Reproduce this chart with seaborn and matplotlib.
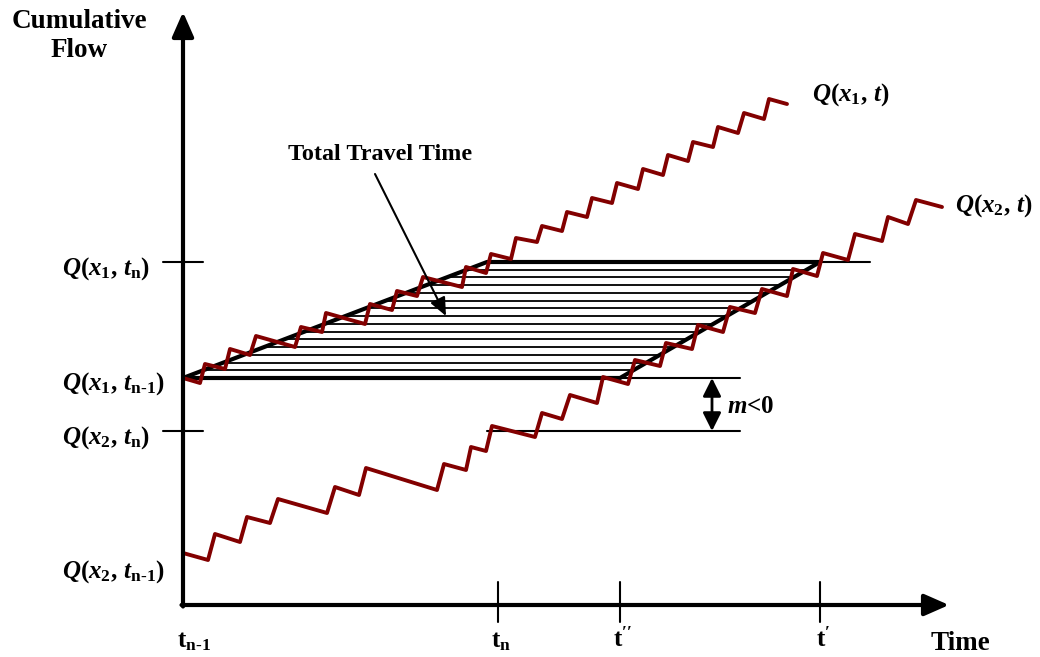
import numpy as np
import pandas as pd
import seaborn as sns
import matplotlib
matplotlib.use("Agg")
import matplotlib.pyplot as plt

# ---- data -------------------------------------------------------------
# Cumulative vehicle counts (vertices of the step-like curves) at the
# upstream detector x1 and the downstream detector x2.
upstream_t = [0.0, 1.7, 2.2, 4.2, 4.7, 6.7, 7.3, 11.2, 11.8, 13.9, 14.3, 18.2,
              18.7, 20.9, 21.4, 23.4, 24.0, 27.9, 28.3, 30.3, 30.8, 32.8, 33.3,
              35.4, 35.9, 37.9, 38.4, 40.4, 40.9, 42.9, 43.4, 45.5, 46.0, 48.0,
              48.5, 50.5, 51.0, 53.0, 53.5, 55.5, 56.1, 58.1, 58.6, 60.4]
upstream_q = [22.7, 22.2, 24.1, 23.6, 25.6, 25.0, 26.9, 25.8, 27.8, 27.3, 29.2,
              28.1, 30.1, 29.5, 31.4, 30.9, 32.8, 31.8, 33.8, 33.2, 35.1, 34.6,
              36.7, 36.3, 37.9, 37.4, 39.3, 38.8, 40.7, 40.2, 42.2, 41.6, 43.6,
              43.0, 45.0, 44.4, 46.3, 45.8, 47.8, 47.2, 49.2, 48.6, 50.6, 50.1]

downstream_t = [0.0, 2.5, 3.2, 5.7, 6.4, 8.7, 9.5, 14.4, 15.2, 17.6, 18.3, 25.4,
                26.1, 28.3, 28.8, 30.3, 30.9, 35.2, 35.9, 37.9, 38.7, 41.4, 42.0,
                44.5, 45.2, 47.7, 48.3, 50.9, 51.5, 54.0, 54.7, 57.2, 57.9, 60.4,
                61.0, 63.4, 64.0, 66.5, 67.2, 69.9, 70.5, 72.5, 73.3, 75.9]
downstream_q = [5.2, 4.5, 7.1, 6.3, 8.8, 8.2, 10.6, 9.2, 11.8, 11.0, 13.7, 11.5,
                14.1, 13.5, 15.8, 15.4, 17.9, 16.8, 19.2, 18.6, 21.0, 20.2, 22.8,
                22.1, 24.5, 23.9, 26.2, 25.6, 28.0, 27.3, 29.8, 29.2, 31.6, 30.9,
                33.6, 32.9, 35.2, 34.5, 37.1, 36.4, 38.8, 38.1, 40.5, 39.8]

# time marks on the horizontal axis
time_marks = [0.0, 31.5, 43.7, 63.7]
time_labels = [r"$\mathrm{t_{n\text{-}1}}$", r"$\mathrm{t_{n}}$",
               r"$\mathrm{t}^{\prime\prime}$", r"$\mathrm{t}^{\prime}$"]

# cumulative-flow levels on the vertical axis
Q1_N, Q1_PREV, Q2_N, Q2_PREV = 34.3, 22.7, 17.4, 5.2
flow_labels = [r"$Q(x_1,\,t_\mathrm{n})$", r"$Q(x_1,\,t_\mathrm{n\text{-}1})$",
               r"$Q(x_2,\,t_\mathrm{n})$", r"$Q(x_2,\,t_\mathrm{n\text{-}1})$"]

T_PREV, T_N, T_DPRIME, T_PRIME = time_marks
T_TOP_LEFT = 30.4      # upstream trend reaches Q1_N
TOP_LINE_END = 68.7
LOW_LINE_END = 55.7
GAP_X = 52.9           # position of the m<0 bracket

# ---- style ------------------------------------------------------------
sns.set_theme(style="white")
plt.rcParams["font.family"] = ["Liberation Serif", "DejaVu Serif"]
plt.rcParams["font.weight"] = "bold"
plt.rcParams["text.color"] = "black"
plt.rcParams["mathtext.fontset"] = "custom"
plt.rcParams["mathtext.rm"] = "Liberation Serif:bold"
plt.rcParams["mathtext.bf"] = "Liberation Serif:bold"
plt.rcParams["mathtext.it"] = "Liberation Serif:italic:bold"

CURVE = "#820000"
fig = plt.figure(figsize=(10.4, 6.57), dpi=100)
ax = fig.add_axes([0, 0, 1, 1])

# ---- shaded travel-time region (horizontal hatching) -----------------
span = Q1_N - Q1_PREV
for q in np.linspace(Q1_PREV, Q1_N, 16)[1:-1]:
    f = (q - Q1_PREV) / span
    xl = T_PREV + f * (T_TOP_LEFT - T_PREV)
    xr = T_DPRIME + f * (T_PRIME - T_DPRIME)
    ax.plot([xl, xr], [q, q], color="#111111", lw=1.4, zorder=2)

# outline of the region
ax.plot([T_PREV, T_TOP_LEFT, T_PRIME], [Q1_PREV, Q1_N, Q1_N],
        color="black", lw=3, solid_capstyle="butt", zorder=3)
ax.plot([T_PREV, T_DPRIME, T_PRIME], [Q1_PREV, Q1_PREV, Q1_N],
        color="black", lw=3, solid_capstyle="butt", zorder=3)

# thin reference lines
ax.plot([T_PRIME, TOP_LINE_END], [Q1_N, Q1_N], color="black", lw=1.5, zorder=2)
ax.plot([T_DPRIME, LOW_LINE_END], [Q1_PREV, Q1_PREV], color="black", lw=1.5, zorder=2)
ax.plot([T_TOP_LEFT, LOW_LINE_END], [Q2_N, Q2_N], color="black", lw=1.5, zorder=2)

# ---- cumulative curves -----------------------------------------------
curves = pd.concat([
    pd.DataFrame({"t": upstream_t, "Q": upstream_q, "detector": "x1"}),
    pd.DataFrame({"t": downstream_t, "Q": downstream_q, "detector": "x2"}),
], ignore_index=True)
sns.lineplot(data=curves, x="t", y="Q", hue="detector", estimator=None,
             sort=False, palette={"x1": CURVE, "x2": CURVE}, lw=2.8,
             legend=False, ax=ax, zorder=4)
ax.set_xlim(-18.3, 85.7)
ax.set_ylim(-5.2, 60.5)
ax.axis("off")

# ---- axes with arrow heads -------------------------------------------
axis_arrow = dict(arrowstyle="-|>,head_length=0.5,head_width=0.22", lw=3,
                  color="black", mutation_scale=30, shrinkA=0, shrinkB=0)
ax.annotate("", xy=(0, 59.3), xytext=(0, -0.15), arrowprops=axis_arrow, zorder=5)
ax.annotate("", xy=(76.6, 0), xytext=(-0.15, 0), arrowprops=axis_arrow, zorder=5)

# ticks on the time axis
for t in time_marks[1:]:
    ax.plot([t, t], [-1.7, 2.3], color="black", lw=1.5, zorder=5)
for t, lab in zip(time_marks, time_labels):
    ax.text(t + (1.1 if t == 0 else 0.3), -4.2, lab, fontsize=18,
            ha="center", va="baseline")

# ticks on the flow axis
for q in (Q1_N, Q2_N):
    ax.plot([-2.0, 2.0], [q, q], color="black", lw=1.5, zorder=5)
for q, lab, dy in zip((Q1_N, Q1_PREV, Q2_N, Q2_PREV), flow_labels,
                      (-1.3, -1.2, -1.3, -2.5)):
    ax.text(-12.1, q + dy, lab, fontsize=18, ha="left", va="baseline")

# curve names
ax.text(62.9, 50.4, r"$Q(x_1,\,t)$", fontsize=18, ha="left", va="baseline")
ax.text(77.2, 39.3, r"$Q(x_2,\,t)$", fontsize=18, ha="left", va="baseline")

# axis titles
ax.text(-10.4, 56.9, "Cumulative\nFlow", fontsize=19.5, ha="center",
        va="center", multialignment="center", linespacing=1.2)
ax.text(77.7, -3.8, "Time", fontsize=19.5, ha="center", va="center")

# travel-time annotation
ax.text(19.7, 45.0, "Total Travel Time", fontsize=17.4, ha="center", va="center")
ax.annotate("", xy=(26.3, 28.9), xytext=(19.2, 43.1),
            arrowprops=dict(arrowstyle="-|>,head_length=0.5,head_width=0.22",
                            lw=1.5, color="black", mutation_scale=22,
                            shrinkA=0, shrinkB=0), zorder=6)

# m < 0 bracket
ax.annotate("", xy=(GAP_X, Q1_PREV), xytext=(GAP_X, Q2_N),
            arrowprops=dict(arrowstyle="<|-|>,head_length=0.5,head_width=0.25",
                            lw=2, color="black", mutation_scale=22,
                            shrinkA=0, shrinkB=0), zorder=6)
ax.text(54.4, 19.2, r"$m$<0", fontsize=18, ha="left", va="baseline")

fig.savefig("out.png", dpi=100)
